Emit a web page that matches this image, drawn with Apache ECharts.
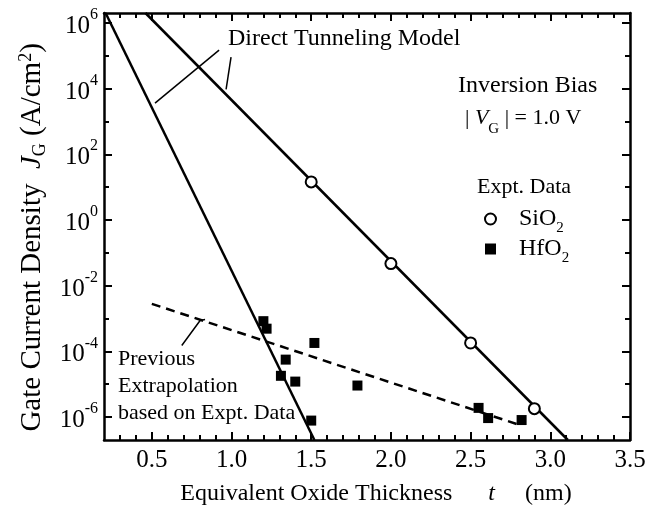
<!DOCTYPE html>
<html>
<head>
<meta charset="utf-8">
<script src="https://cdn.jsdelivr.net/npm/echarts@6/dist/echarts.min.js"></script>
<style>html,body{margin:0;padding:0;background:#fff}#c{width:662px;height:509px}</style>
</head>
<body>
<div id="c"></div>
<script>
// ---- data (thickness nm, current density A/cm^2) ----
const xMajorTicks = [0.5, 1.0, 1.5, 2.0, 2.5, 3.0, 3.5];
const xMinorTicks = [0.3, 0.4, 0.6, 0.7, 0.8, 0.9, 1.1, 1.2, 1.3, 1.4, 1.6, 1.7, 1.8, 1.9, 2.1, 2.2, 2.3, 2.4, 2.6, 2.7, 2.8, 2.9, 3.1, 3.2, 3.3, 3.4];
const yMajorTicks = [1e-6, 1e-4, 1e-2, 1e0, 1e2, 1e4, 1e6];
const yMinorTicks = [1e-5, 1e-3, 1e-1, 1e1, 1e3, 1e5];
const sio2Data = [[1.5, 14.4], [2.0, 0.047], [2.5, 1.8e-4], [2.9, 1.8e-6]];
const hfo2Data = [[1.2, 8.3e-4], [1.22, 4.9e-4], [1.34, 5.6e-5], [1.31, 1.8e-5], [1.40, 1.2e-5], [1.52, 1.8e-4], [1.50, 7.8e-7], [1.79, 9.1e-6], [2.55, 1.9e-6], [2.61, 9.3e-7], [2.82, 8.1e-7]];
const sio2Model = [[0.46, 2e6], [3.11, 2e-7]];
const hfo2Model = [[0.21, 2e6], [1.52, 2e-7]];
const prevExtrap = [[0.5, 2.8e-3], [2.8, 5.9e-7]];
const tunnelLeaderA = [[0.922, 1.48e5], [0.52, 3.6e3]];
const tunnelLeaderB = [[0.997, 9.1e4], [0.966, 9.5e3]];
const extrapLeader = [[0.688, 1.5e-4], [0.803, 8.7e-4], [0.834, 9.3e-4]];

const FONT = 'Liberation Serif';
const chart = echarts.init(document.getElementById('c'), null, {renderer: 'canvas'});
const AX = 2.5;
const xMin = 0.2, xMax = 3.5, yMin = 2e-7, yMax = 2e6;

function supLabel(v) {
  const e = Math.round(Math.log10(v));
  return '{b|10}{s|' + e + '}';
}
const labelRich = {
  b: {fontFamily: FONT, fontSize: 25, lineHeight: 32, color: '#000', verticalAlign: 'bottom'},
  s: {fontFamily: FONT, fontSize: 16, lineHeight: 16, color: '#000', verticalAlign: 'top'}
};
function xAx(pos, ticks, len, showLine, showLabel) {
  return {
    type: 'value', min: xMin, max: xMax, position: pos,
    axisLine: {show: showLine, onZero: false, lineStyle: {color: '#000', width: AX}},
    axisTick: {show: true, inside: true, length: len, customValues: ticks, lineStyle: {color: '#000', width: 2}},
    axisLabel: {show: showLabel, customValues: ticks, margin: 8, fontFamily: FONT, fontSize: 25, color: '#000', formatter: v => v.toFixed(1)},
    splitLine: {show: false}
  };
}
function yAx(pos, ticks, len, showLine, showLabel) {
  return {
    type: 'log', min: yMin, max: yMax, position: pos,
    axisLine: {show: showLine, onZero: false, lineStyle: {color: '#000', width: AX}},
    axisTick: {show: true, inside: true, length: len, customValues: ticks, lineStyle: {color: '#000', width: 2}},
    axisLabel: {show: showLabel, customValues: ticks, margin: 6, formatter: supLabel, rich: labelRich},
    splitLine: {show: false}
  };
}
const xAxes = [xAx('bottom', xMajorTicks, 8, true, true), xAx('bottom', xMinorTicks, 5, false, false),
               xAx('top', xMajorTicks, 8, true, false), xAx('top', xMinorTicks, 5, false, false)];
const yAxes = [yAx('left', yMajorTicks, 8, true, true), yAx('left', yMinorTicks, 5, false, false),
               yAx('right', yMajorTicks, 8, true, false), yAx('right', yMinorTicks, 5, false, false)];
Object.assign(xAxes[0], {
  name: '   Equivalent Oxide Thickness      {i|t}     (nm)', nameLocation: 'middle', nameGap: 42,
  nameTextStyle: {fontFamily: FONT, fontSize: 24, color: '#000',
    rich: {i: {fontFamily: FONT, fontSize: 24, fontStyle: 'italic', color: '#000'}}}
});
Object.assign(yAxes[0], {
  name: 'Gate Current Density  {i|J}{sub|G} (A/cm{sup|2})   ', nameLocation: 'middle', nameGap: 55,
  nameTextStyle: {fontFamily: FONT, fontSize: 29, color: '#000', lineHeight: 32,
    rich: {
      i: {fontFamily: FONT, fontSize: 29, fontStyle: 'italic', color: '#000', lineHeight: 32},
      sub: {fontFamily: FONT, fontSize: 18, color: '#000', verticalAlign: 'bottom', lineHeight: 18},
      sup: {fontFamily: FONT, fontSize: 18, color: '#000', verticalAlign: 'top', lineHeight: 18}
    }}
});

const lineS = (data, extra) => Object.assign({
  type: 'line', data: data, symbol: 'none', silent: true, clip: true,
  lineStyle: {color: '#000', width: 2.5}, z: 2
}, extra || {});

const option = {
  animation: false,
  backgroundColor: '#fff',
  grid: {left: 104, right: 32, top: 13, bottom: 69, containLabel: false, outerBoundsMode: 'none'},
  xAxis: xAxes,
  yAxis: yAxes,
  legend: {
    orient: 'vertical', left: 484, top: 207, padding: 0, itemWidth: 11, itemHeight: 11, itemGap: 1,
    data: [{name: 'SiO2', icon: 'circle'}, {name: 'HfO2', icon: 'rect'}],
    formatter: n => '{n|' + n.slice(0, -1) + '}{sub|2}',
    textStyle: {fontFamily: FONT, fontSize: 24, color: '#000', lineHeight: 22,
      rich: {
        n: {fontFamily: FONT, fontSize: 24, color: '#000', lineHeight: 22, padding: [0, 0, 0, 18]},
        sub: {fontFamily: FONT, fontSize: 15, color: '#000', verticalAlign: 'bottom', lineHeight: 15, padding: [0, 0, -6, 0]}
      }}
  },
  series: [
    lineS(sio2Model),
    lineS(hfo2Model),
    lineS(prevExtrap, {lineStyle: {color: '#000', width: 2.5, type: [9, 6]}}),
    lineS(tunnelLeaderA, {lineStyle: {color: '#000', width: 1.5}}),
    lineS(tunnelLeaderB, {lineStyle: {color: '#000', width: 1.5}}),
    lineS(extrapLeader, {lineStyle: {color: '#000', width: 1.5}}),
    {name: 'SiO2', type: 'scatter', data: sio2Data, symbol: 'circle', symbolSize: 11, z: 5,
      itemStyle: {color: '#fff', borderColor: '#000', borderWidth: 2, opacity: 1}},
    {name: 'HfO2', type: 'scatter', data: hfo2Data, symbol: 'rect', symbolSize: 10, z: 5,
      itemStyle: {color: '#000', borderColor: '#000', borderWidth: 0, opacity: 1}}
  ],
  graphic: [
    {type: 'text', left: 228, top: 27, style: {text: 'Direct Tunneling Model', font: '24px "Liberation Serif"', fill: '#000'}},
    {type: 'text', left: 458, top: 74, style: {text: 'Inversion Bias', font: '24px "Liberation Serif"', fill: '#000'}},
    {type: 'text', left: 465, top: 107, style: {
      text: '| {i|V}{sub|G} | = 1.0 V', font: '22px "Liberation Serif"', fill: '#000',
      rich: {i: {fontFamily: FONT, fontSize: 22, fontStyle: 'italic', lineHeight: 26},
             sub: {fontFamily: FONT, fontSize: 15, verticalAlign: 'bottom', lineHeight: 15, padding: [0, 0, -6, 0]}}}},
    {type: 'text', left: 477, top: 176, style: {text: 'Expt. Data', font: '22px "Liberation Serif"', fill: '#000'}},
    {type: 'text', left: 118, top: 346, style: {text: 'Previous\nExtrapolation\nbased on Expt. Data', font: '22px "Liberation Serif"', fill: '#000', lineHeight: 27}}
  ]
};
chart.setOption(option);
</script>
</body>
</html>
